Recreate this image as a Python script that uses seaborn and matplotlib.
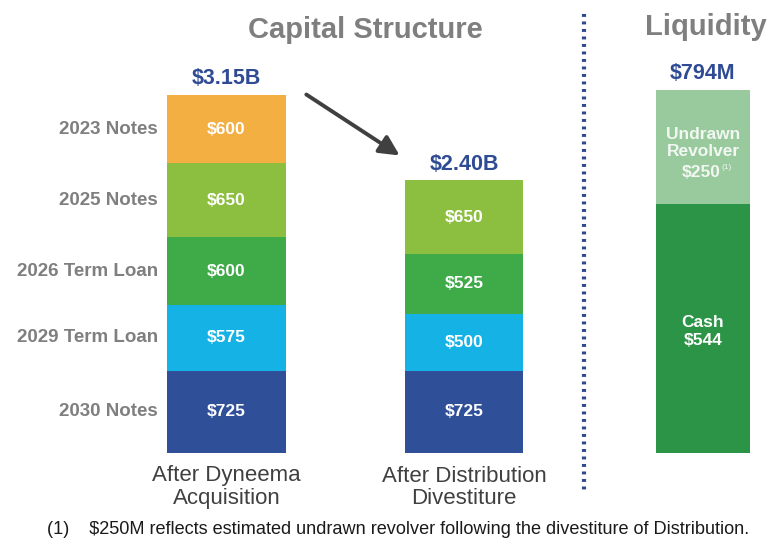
import pandas as pd
import seaborn as sns
import matplotlib.pyplot as plt
from matplotlib.lines import Line2D
from matplotlib.patches import FancyArrowPatch

sns.set_theme(style="white")
plt.rcParams["font.family"] = ["Liberation Sans", "DejaVu Sans"]

# -----------------------------
# Data
# -----------------------------
scenarios = ["After Dyneema\nAcquisition", "After Distribution\nDivestiture"]
tranches = ["2030 Notes", "2029 Term Loan", "2026 Term Loan", "2025 Notes", "2023 Notes"]  # bottom -> top
dyneema = [725, 575, 600, 650, 600]
distribution = [725, 500, 525, 650, 0]
totals = ["$3.15B", "$2.40B"]
tranche_colors = ["#2F4F99", "#15B2E6", "#3EAA48", "#8CBF3F", "#F3AF42"]

liq_parts = ["Cash", "Undrawn Revolver"]  # bottom -> top
liq_values = [544, 250]
liq_total = "$794M"
liq_colors = ["#2C9447", "#98CA9D"]

W, H = 771, 541
fig = plt.figure(figsize=(W / 100, H / 100), dpi=100)


def fx(px):
    return px / W


def fy(py):
    return 1 - py / H


# long table with cumulative tops
rows = []
for s, vals in zip(scenarios, [dyneema, distribution]):
    cum = 0
    for t, v in zip(tranches, vals):
        cum += v
        rows.append(dict(scenario=s, tranche=t, value=v, top=cum))
df = pd.DataFrame(rows)

# -----------------------------
# Capital structure panel
# -----------------------------
ax1 = fig.add_axes([fx(107.75), fy(453), fx(475), 386 / H])
# draw cumulative bars from the top tranche down so each one overlays the previous
for t, c in reversed(list(zip(tranches, tranche_colors))):
    sub = df[df["tranche"] == t]
    sns.barplot(data=sub, x="scenario", y="top", order=scenarios, color=c,
                width=0.5, saturation=1, edgecolor="none", ax=ax1)
ax1.set_ylim(0, 3150 * 386 / 358)
ax1.set_xlim(-0.5, 1.5)
ax1.set_xlabel("")
ax1.set_ylabel("")
ax1.set_yticks([])
ax1.tick_params(axis="x", length=0, pad=9)
for lab in ax1.get_xticklabels():
    lab.set_fontsize(16)
    lab.set_color("#404040")
    lab.set_linespacing(1.12)
sns.despine(ax=ax1, left=True, bottom=True)

# segment values + tranche names
for i, s in enumerate(scenarios):
    sub = df[df["scenario"] == s]
    for _, r in sub.iterrows():
        if r["value"] <= 0:
            continue
        mid = r["top"] - r["value"] / 2
        ax1.text(i, mid, f"${r['value']:,}", ha="center", va="center",
                 color="white", fontsize=12.5, fontweight="bold")
        if i == 0:
            ax1.annotate(r["tranche"], xy=(-0.25, mid), xytext=(-9, 0),
                         textcoords="offset pixels", ha="right", va="center",
                         color="#7F7F7F", fontsize=13.5, fontweight="bold")
    ax1.annotate(totals[i], xy=(i, sub["top"].max()), xytext=(0, 16),
                 textcoords="offset pixels", ha="center", va="center",
                 color="#2E4B94", fontsize=15.5, fontweight="bold")

# -----------------------------
# Liquidity panel
# -----------------------------
liq_df = pd.DataFrame({"part": liq_parts, "value": liq_values})
liq_df["top"] = liq_df["value"].cumsum()
liq_df["x"] = "Liquidity"

ax2 = fig.add_axes([fx(644.25), fy(453), fx(117.5), 386 / H])
for _, r in liq_df[::-1].iterrows():
    c = liq_colors[liq_parts.index(r["part"])]
    sns.barplot(x=[r["x"]], y=[r["top"]], color=c, width=0.8, saturation=1,
                edgecolor="none", ax=ax2)
ax2.set_ylim(0, 794 * 386 / 363)
ax2.set_xlim(-0.5, 0.5)
ax2.axis("off")

cash_mid = liq_values[0] / 2
rev_mid = liq_values[0] + liq_values[1] / 2
ax2.annotate(f"Cash\n${liq_values[0]}", xy=(0, cash_mid), xytext=(0, -3),
             textcoords="offset pixels", ha="center", va="center",
             color="white", fontsize=12.5, fontweight="bold", linespacing=1.3)
ax2.annotate("Undrawn\nRevolver", xy=(0, rev_mid), xytext=(0, 4),
             textcoords="offset pixels", ha="center", va="center",
             color="#F2F7F2", fontsize=12.5, fontweight="bold", linespacing=1.2)
ax2.annotate(f"${liq_values[1]}", xy=(0, rev_mid), xytext=(18, -25),
             textcoords="offset pixels", ha="right", va="center",
             color="#F2F7F2", fontsize=12.5, fontweight="bold")
ax2.annotate("(1)", xy=(0, rev_mid), xytext=(19, -20),
             textcoords="offset pixels", ha="left", va="center",
             color="#F2F7F2", fontsize=6)
ax2.annotate(liq_total, xy=(0, liq_df["top"].max()), xytext=(0, 17),
             textcoords="offset pixels", ha="center", va="center",
             color="#2E4B94", fontsize=15.5, fontweight="bold")

# -----------------------------
# Titles, divider, arrow, footnote
# -----------------------------
fig.text(fx(365), fy(30), "Capital Structure", ha="center", va="center",
         color="#7F7F7F", fontsize=21, fontweight="bold")
fig.text(fx(706), fy(27), "Liquidity", ha="center", va="center",
         color="#7F7F7F", fontsize=21, fontweight="bold")

fig.add_artist(Line2D([fx(584), fx(584)], [fy(14), fy(492)], transform=fig.transFigure,
                      color="#2F4A8A", lw=3, linestyle=(0, (0.7, 1.1))))

fig.add_artist(FancyArrowPatch(
    (fx(304), fy(93)), (fx(402), fy(157)), transform=fig.transFigure,
    arrowstyle="-|>,head_length=8,head_width=4", color="#404040", lw=2.8,
    mutation_scale=1.5))

fig.text(fx(47), fy(530), "(1)    $250M reflects estimated undrawn revolver following the divestiture of Distribution.",
         ha="left", va="center", color="#1A1A1A", fontsize=13.1)

fig.savefig("out.png", dpi=100)
